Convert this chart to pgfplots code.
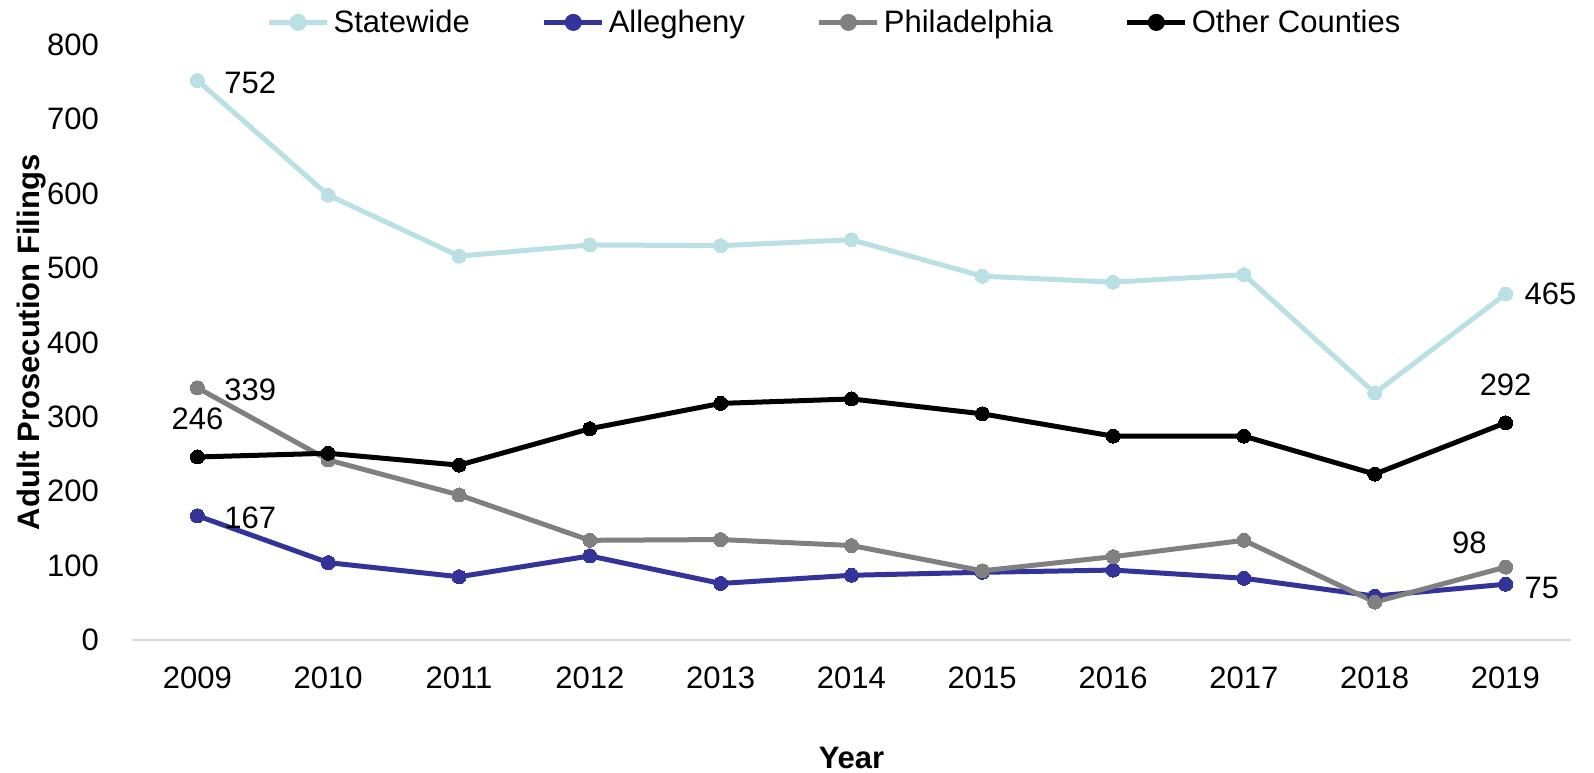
\documentclass[border=0pt]{standalone}
\usepackage{pgfplots}
\pgfplotsset{compat=1.18}
\usepackage{fontspec}
\setmainfont{Liberation Sans}
\definecolor{cstate}{HTML}{BBE0E3}
\definecolor{calle}{HTML}{333399}
\definecolor{cphil}{HTML}{808080}
\definecolor{cother}{HTML}{000000}
\begin{document}
\begin{tikzpicture}
\path[use as bounding box] (-66pt,-66pt) rectangle (731pt,320pt);
\begin{axis}[
  at={(0,0)}, anchor=south west,
  scale only axis, width=719.5pt, height=297.6pt,
  xmin=2008.5, xmax=2019.5, ymin=0, ymax=800,
  xtick={2009,...,2019}, ytick={0,100,...,800},
  xticklabel style={/pgf/number format/1000 sep={}},
  /pgf/number format/assume math mode=true,
  tick label style={font=\fontsize{15.5}{18}\selectfont},
  major tick length=0pt,
  axis x line*=bottom, axis y line*=left,
  x axis line style={draw=black!15, line width=0.8pt, -},
  y axis line style={draw=none},
  xlabel={\textbf{Year}}, ylabel={\textbf{Adult Prosecution Filings}},
  label style={font=\fontsize{15.5}{18}\selectfont},
  xlabel style={at={(axis description cs:0.5,0)}, anchor=base, yshift=-64pt},
  ylabel style={at={(axis description cs:0,0.5)}, anchor=base, rotate=0, yshift=46pt},
  yticklabel style={anchor=east, xshift=-13pt},
  xticklabel style={anchor=north, yshift=-10pt},
  legend columns=4,
  legend style={draw=none, at={(0.5,1)}, anchor=center, xshift=-8pt, yshift=11.2pt, font=\fontsize{15.5}{18}\selectfont, /tikz/every even column/.append style={column sep=34pt}, /tikz/every odd column/.append style={column sep=0pt}},
  legend cell align=left,
  legend image code/.code={\draw[#1, mark=none] (0pt,0pt) -- (29pt,0pt); \fill[#1] (14.5pt,0pt) circle (3pt);},
  clip=false,
]
\addplot[color=cstate, line width=2.5pt, mark=*, mark size=3.5pt, mark options={fill=cstate, line width=0pt}] coordinates {(2009,752)(2010,598)(2011,516)(2012,531)(2013,530)(2014,538)(2015,489)(2016,481)(2017,491)(2018,332)(2019,465)};
\addplot[color=calle, line width=2.5pt, mark=*, mark size=3.5pt, mark options={fill=calle, line width=0pt}] coordinates {(2009,167)(2010,104)(2011,85)(2012,113)(2013,76)(2014,87)(2015,91)(2016,94)(2017,83)(2018,59)(2019,75)};
\addplot[color=cphil, line width=2.5pt, mark=*, mark size=3.5pt, mark options={fill=cphil, line width=0pt}] coordinates {(2009,339)(2010,242)(2011,195)(2012,134)(2013,135)(2014,127)(2015,93)(2016,112)(2017,134)(2018,51)(2019,98)};
\addplot[color=cother, line width=2.5pt, mark=*, mark size=3.5pt, mark options={fill=cother, line width=0pt}] coordinates {(2009,246)(2010,251)(2011,235)(2012,284)(2013,318)(2014,324)(2015,304)(2016,274)(2017,274)(2018,223)(2019,292)};
\legend{Statewide,Allegheny,Philadelphia,Other Counties}
\begin{scope}[every node/.style={font=\fontsize{15.5}{18}\selectfont}]
\node[anchor=west, xshift=10pt, yshift=-1pt] at (axis cs:2009,752) {752};
\node[anchor=west, xshift=10pt, yshift=-1pt] at (axis cs:2009,339) {339};
\node[anchor=south, yshift=10pt] at (axis cs:2009,246) {246};
\node[anchor=west, xshift=10pt, yshift=-1pt] at (axis cs:2009,167) {167};
\node[anchor=west, xshift=6pt] at (axis cs:2019,465) {465};
\node[anchor=south, yshift=10pt] at (axis cs:2019,292) {292};
\node[anchor=south east, xshift=-6pt, yshift=3pt] at (axis cs:2019,98) {98};
\node[anchor=west, xshift=6pt, yshift=-2pt] at (axis cs:2019,75) {75};
\end{scope}
\end{axis}
\end{tikzpicture}
\end{document}
